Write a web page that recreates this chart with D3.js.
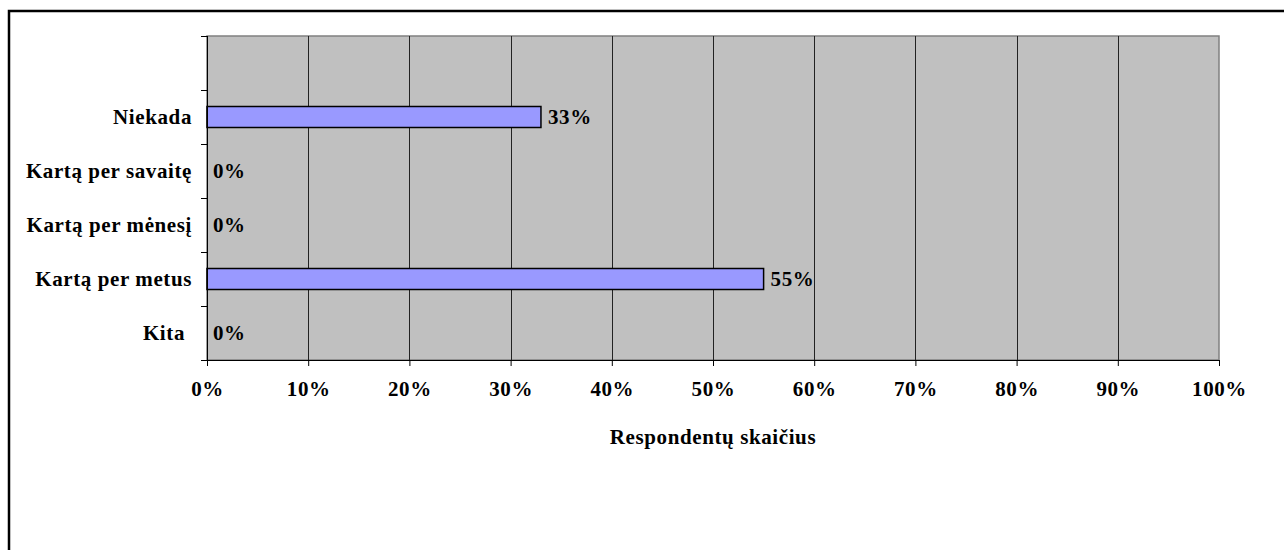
<!DOCTYPE html>
<html>
<head>
<meta charset="utf-8">
<script src="https://cdn.jsdelivr.net/npm/d3@7"></script>
<style>
  body { margin: 0; background: #fff; }
  text { font-family: "Liberation Serif", "Times New Roman", serif; font-weight: bold; fill: #000; letter-spacing: 0.6px; }
</style>
</head>
<body>
<script>
// ----------------------------------------
//  Data
// ----------------------------------------

// top to bottom, the first band is empty in the original
var categories = ["", "Niekada", "Kartą per savaitę", "Kartą per mėnesį", "Kartą per metus", "Kita"];
var values = [null, 33, 0, 0, 55, 0];
var xTicks = [0, 10, 20, 30, 40, 50, 60, 70, 80, 90, 100];
var axisTitle = "Respondentų skaičius";

var W = 1284, H = 550;
var margin = {top: 36, left: 207, right: 65, bottom: 190};
var width = W - margin.left - margin.right;   // 1012
var height = H - margin.top - margin.bottom;  // 324
var fs = "21px";

var svg = d3.select("body").append("svg")
    .attr("width", W)
    .attr("height", H);

// outer frame (only left and top visible in the picture)
svg.append("rect")
    .attr("x", 9).attr("y", 11)
    .attr("width", W + 20).attr("height", H + 20)
    .attr("fill", "none")
    .attr("stroke", "#000")
    .attr("stroke-width", 2.5);

var g = svg.append("g")
    .attr("transform", "translate(" + margin.left + "," + margin.top + ")");

// ----------------------------------------
//  Scales
// ----------------------------------------

var x = d3.scaleLinear().domain([0, 100]).range([0, width]);
var yb = d3.scaleBand().domain(d3.range(categories.length)).range([0, height]);

// plot background
g.append("rect")
    .attr("width", width).attr("height", height)
    .attr("fill", "#c0c0c0")
    .attr("stroke", "#808080")
    .attr("stroke-width", 1.5);

// gridlines
g.selectAll(".grid")
    .data(xTicks.filter(function(d) { return d > 0 && d < 100; }))
    .enter().append("line")
    .attr("x1", function(d) { return Math.round(x(d)) + 0.5; })
    .attr("x2", function(d) { return Math.round(x(d)) + 0.5; })
    .attr("y1", 0).attr("y2", height)
    .attr("stroke", "#222").attr("stroke-width", 1);

// bars
var barData = values.map(function(v, i) { return {i: i, v: v}; }).filter(function(d) { return d.v !== null; });

g.selectAll(".bar")
    .data(barData.filter(function(d) { return d.v > 0; }))
    .enter().append("rect")
    .attr("x", 0)
    .attr("y", function(d) { return yb(d.i) + yb.bandwidth() / 2 - 10.5; })
    .attr("width", function(d) { return x(d.v); })
    .attr("height", 21)
    .attr("fill", "#9999ff")
    .attr("stroke", "#000")
    .attr("stroke-width", 1.5);

// value labels
g.selectAll(".val")
    .data(barData)
    .enter().append("text")
    .attr("x", function(d) { return x(d.v) + (d.v > 0 ? 7 : 6); })
    .attr("y", function(d) { return yb(d.i) + yb.bandwidth() / 2; })
    .attr("dy", "0.35em")
    .style("font-size", fs)
    .text(function(d) { return d.v + "%"; });

// ----------------------------------------
//  Axes
// ----------------------------------------

// band boundary ticks on the category axis
g.selectAll(".ytick")
    .data(d3.range(categories.length + 1))
    .enter().append("line")
    .attr("x1", -6).attr("x2", 0)
    .attr("y1", function(i) { return Math.round(i * yb.step()) + 0.5; })
    .attr("y2", function(i) { return Math.round(i * yb.step()) + 0.5; })
    .attr("stroke", "#000");

g.append("line")
    .attr("x1", 0.5).attr("x2", 0.5)
    .attr("y1", 0).attr("y2", height)
    .attr("stroke", "#000");

// category labels
g.selectAll(".cat")
    .data(categories)
    .enter().append("text")
    .attr("x", function(d) { return d === "Kita" ? -22 : -15; })
    .attr("y", function(d, i) { return yb(i) + yb.bandwidth() / 2; })
    .attr("dy", "0.35em")
    .attr("text-anchor", "end")
    .style("font-size", fs)
    .text(function(d) { return d; });

// x axis
var xAxis = g.append("g")
    .attr("transform", "translate(0," + height + ")")
    .call(d3.axisBottom(x).tickValues(xTicks).tickSize(6).tickPadding(15)
        .tickFormat(function(d) { return d + "%"; }));
xAxis.select(".domain").attr("d", "M-6,0.5H" + width);
xAxis.selectAll("line").attr("stroke", "#000");
xAxis.selectAll("text").style("font-size", fs);
xAxis.attr("font-family", null).attr("font-size", null);

// axis title
g.append("text")
    .attr("x", width / 2)
    .attr("y", height + 84)
    .attr("text-anchor", "middle")
    .style("font-size", fs)
    .text(axisTitle);
</script>
</body>
</html>
